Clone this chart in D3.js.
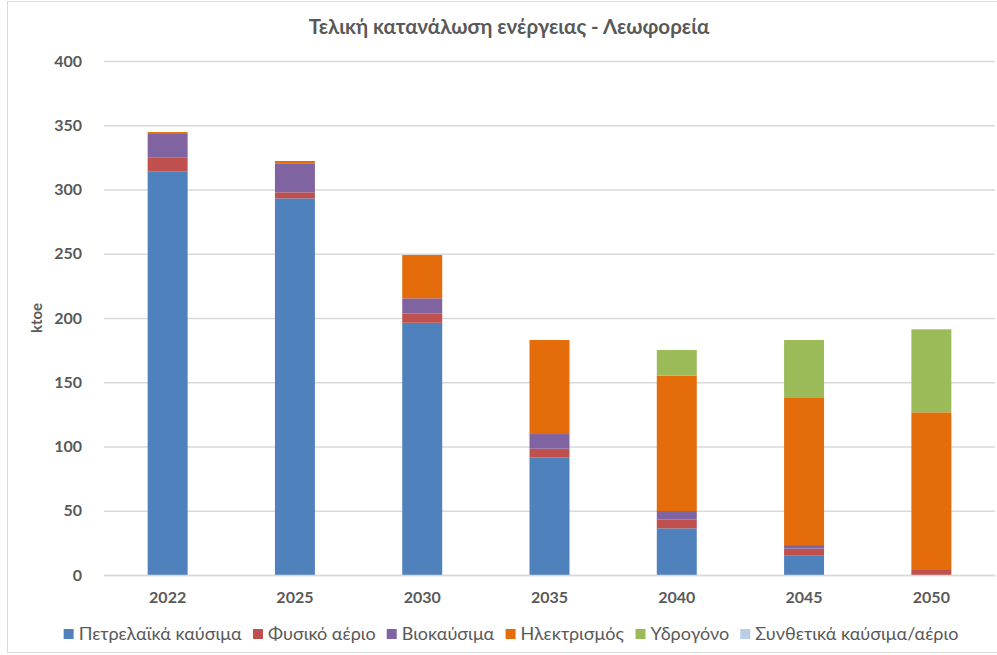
<!DOCTYPE html>
<html><head><meta charset="utf-8">
<script src="https://cdn.jsdelivr.net/npm/d3@7"></script>
<style>body{margin:0;background:#fff;} svg{display:block;font-family:Lato,"Open Sans",sans-serif;}</style>
</head><body><svg id="c" width="997" height="655"></svg>
<script>
const categories = ["2022","2025","2030","2035","2040","2045","2050"];
const seriesNames = ["Πετρελαϊκά καύσιμα","Φυσικό αέριο","Βιοκαύσιμα","Ηλεκτρισμός","Υδρογόνο","Συνθετικά καύσιμα/αέριο"];
const petroleum = [314.2, 293.1, 196.3, 91.6, 36.3, 15.0, 0];
const naturalGas = [10.5, 4.7, 7.3, 6.7, 7.0, 5.5, 3.9];
const biofuels = [18.5, 22.6, 11.7, 11.4, 6.5, 2.8, 0];
const electricity = [1.5, 1.8, 33.7, 73.2, 105.4, 115.0, 122.7];
const hydrogen = [0, 0, 0, 0, 19.9, 44.6, 64.6];
const synthetic = [0, 0, 0, 0, 0, 0, 0];
const yTicks = [0,50,100,150,200,250,300,350,400];
const colors = ["#4F81BD","#C0504D","#8064A2","#E46C0A","#9BBB59","#B9CDE5"];

const seriesData = [petroleum, naturalGas, biofuels, electricity, hydrogen, synthetic];
const rows = categories.map((c,i)=>{const r={cat:c}; seriesNames.forEach((s,j)=>r[s]=seriesData[j][i]); return r;});
const stack = d3.stack().keys(seriesNames)(rows);

const svg = d3.select("#c");
const W=997,H=655;
svg.append("rect").attr("x",7.5).attr("y",1.5).attr("width",W).attr("height",651).attr("fill","#fff").attr("stroke","#d9d9d9");

const pLeft=104, pRight=995, pTop=61, pBottom=575;
const x = d3.scaleBand().domain(categories).range([pLeft,pRight]).paddingInner(0.686).paddingOuter(0.343);
const y = d3.scaleLinear().domain([0,400]).range([pBottom,pTop]);

// gridlines
const yAxis = d3.axisLeft(y).tickValues(yTicks).tickSize(-(pRight-pLeft)).tickPadding(22);
const gy = svg.append("g").attr("transform",`translate(${pLeft},0)`).call(yAxis);
gy.select(".domain").remove();
gy.selectAll(".tick line").attr("stroke","#d9d9d9").attr("stroke-width",1.5);
gy.selectAll(".tick text").attr("fill","#595959").attr("font-size",16).attr("font-weight","bold").attr("font-family","Lato,sans-serif");

// bars
svg.append("g").selectAll("g").data(stack).join("g").attr("fill",(d,i)=>colors[i])
  .selectAll("rect").data(d=>d).join("rect")
  .attr("x",d=>x(d.data.cat)).attr("width",x.bandwidth())
  .attr("y",d=>y(d[1])).attr("height",d=>Math.max(0,y(d[0])-y(d[1])));

// x axis
const xAxis = d3.axisBottom(x).tickSize(0).tickPadding(17);
const gx = svg.append("g").attr("transform",`translate(0,${pBottom})`).call(xAxis);
gx.select(".domain").attr("stroke","#d9d9d9").attr("stroke-width",1.5);
gx.selectAll(".tick text").attr("fill","#595959").attr("font-size",16).attr("font-weight","bold").attr("font-family","Lato,sans-serif");

// title
svg.append("text").attr("x",509).attr("y",34).attr("text-anchor","middle")
  .attr("fill","#595959").attr("font-size",20.5).attr("font-weight","bold").text("Τελική κατανάλωση ενέργειας - Λεωφορεία");

// y label
svg.append("text").attr("transform","translate(42,318) rotate(-90)").attr("text-anchor","middle")
  .attr("fill","#595959").attr("font-size",15).attr("font-weight","bold").text("ktoe");

// legend
const lg = svg.append("g").attr("font-size",18).attr("fill","#595959");
const items = lg.selectAll("g").data(seriesNames).join("g");
items.append("rect").attr("width",10).attr("height",10).attr("y",-11).attr("fill",(d,i)=>colors[i]);
items.append("text").attr("x",15).attr("y",0).text(d=>d).attr("fill","#595959");
let widths=[]; items.each(function(){widths.push(this.getBBox().width);});
const gap=11; const total=d3.sum(widths)+gap*(widths.length-1);
let cx=511-total/2;
items.attr("transform",(d,i)=>{const t=`translate(${cx},640)`; cx+=widths[i]+gap; return t;});
</script></body></html>
